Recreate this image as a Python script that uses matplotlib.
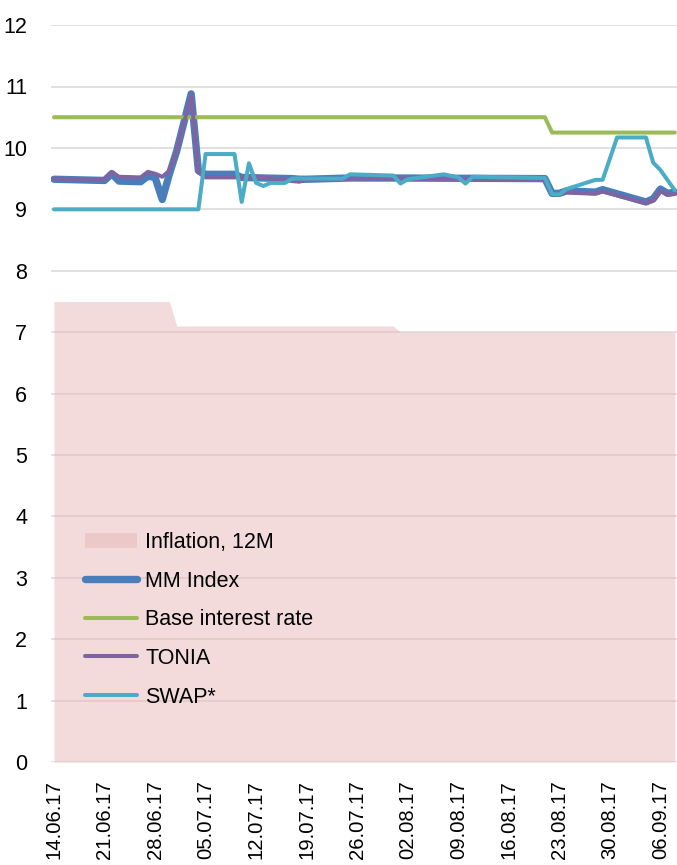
import pandas as pd
import matplotlib.pyplot as plt
import matplotlib.dates as mdates

plt.rcParams['font.family'] = ['Liberation Sans', 'DejaVu Sans']

# Inflation, 12M (monthly level, shown per day)
infl_dates = ['14.06.17', '30.06.17', '01.07.17', '31.07.17', '01.08.17', '08.09.17']
infl_vals = [7.5, 7.5, 7.1, 7.1, 7.0, 7.0]

# Base interest rate
base_dates = ['14.06.17', '21.08.17', '22.08.17', '08.09.17']
base_vals = [10.5, 10.5, 10.25, 10.25]

# MM Index and TONIA share the same observation dates
mm_dates = ['14.06.17', '21.06.17', '22.06.17', '23.06.17', '26.06.17', '27.06.17',
            '28.06.17', '29.06.17', '30.06.17', '01.07.17', '03.07.17', '04.07.17',
            '05.07.17', '09.07.17', '10.07.17', '13.07.17', '17.07.17', '18.07.17',
            '19.07.17', '25.07.17', '31.07.17', '21.08.17', '22.08.17', '23.08.17',
            '24.08.17', '28.08.17', '29.08.17', '04.09.17', '05.09.17', '06.09.17',
            '07.09.17', '08.09.17']
mm_vals = [9.49, 9.47, 9.58, 9.46, 9.45, 9.54,
           9.52, 9.16, 9.58, 9.95, 10.88, 9.63,
           9.57, 9.57, 9.52, 9.51, 9.50, 9.49,
           9.49, 9.51, 9.51, 9.50, 9.26, 9.26,
           9.30, 9.28, 9.32, 9.12, 9.17, 9.33,
           9.26, 9.28]
tonia_vals = [9.50, 9.48, 9.61, 9.53, 9.52, 9.61,
              9.58, 9.53, 9.63, 9.95, 10.86, 9.60,
              9.52, 9.52, 9.52, 9.52, 9.46, 9.45,
              9.48, 9.50, 9.50, 9.49, 9.25, 9.24,
              9.28, 9.26, 9.29, 9.10, 9.14, 9.30,
              9.24, 9.25]

# SWAP*
swap_dates = ['14.06.17', '04.07.17', '05.07.17', '09.07.17', '10.07.17', '11.07.17',
              '12.07.17', '13.07.17', '14.07.17', '16.07.17', '17.07.17', '24.07.17',
              '25.07.17', '31.07.17', '01.08.17', '02.08.17', '07.08.17', '09.08.17',
              '10.08.17', '11.08.17', '21.08.17', '22.08.17', '23.08.17', '24.08.17',
              '28.08.17', '29.08.17', '31.08.17', '04.09.17', '05.09.17', '06.09.17',
              '08.09.17']
swap_vals = [9.00, 9.00, 9.90, 9.90, 9.12, 9.75,
             9.43, 9.38, 9.43, 9.43, 9.50, 9.50,
             9.57, 9.55, 9.42, 9.49, 9.57, 9.52,
             9.42, 9.53, 9.51, 9.25, 9.24, 9.33,
             9.48, 9.48, 10.17, 10.17, 9.76, 9.64,
             9.31]

tick_dates = ['14.06.17', '21.06.17', '28.06.17', '05.07.17', '12.07.17', '19.07.17',
              '26.07.17', '02.08.17', '09.08.17', '16.08.17', '23.08.17', '30.08.17',
              '06.09.17']


def to_dt(lst):
    return pd.to_datetime(lst, format='%d.%m.%y')


fig = plt.figure(figsize=(6.77, 8.65), dpi=100)
ax = fig.add_axes([0.0753, 0.119, 0.9247, 0.852])

ax.fill_between(to_dt(infl_dates), infl_vals, 0, color='#e6b8b7', alpha=0.5,
                linewidth=0, label='Inflation, 12M', zorder=2)
ax.plot(to_dt(mm_dates), mm_vals, color='#4a7ebb', lw=5.3, label='MM Index',
        solid_capstyle='round', solid_joinstyle='round', zorder=3)
ax.plot(to_dt(base_dates), base_vals, color='#9bbb59', lw=2.9, label='Base interest rate',
        solid_capstyle='round', solid_joinstyle='round', zorder=4)
ax.plot(to_dt(mm_dates), tonia_vals, color='#8064a2', lw=2.9, label='TONIA',
        solid_capstyle='round', solid_joinstyle='round', zorder=5)
ax.plot(to_dt(swap_dates), swap_vals, color='#4bacc6', lw=2.9, label='SWAP*',
        solid_capstyle='round', solid_joinstyle='round', zorder=6)

start = to_dt(['14.06.17'])[0]
ax.set_xlim(start - pd.Timedelta(hours=10), start + pd.Timedelta(days=86.3))
ax.set_ylim(0, 12)
ax.set_yticks(range(0, 13))

ax.set_xticks(to_dt(tick_dates))
ax.xaxis.set_major_formatter(mdates.DateFormatter('%d.%m.%y'))
ax.tick_params(axis='x', labelrotation=90, length=0, pad=13, labelsize=14.6)
ax.tick_params(axis='y', length=0, pad=17, labelsize=15.5)

ax.grid(axis='y', color='#d9d9d9', lw=1.1, zorder=1)
ax.set_axisbelow(True)
for s in ax.spines.values():
    s.set_visible(False)

leg = ax.legend(loc='upper left', bbox_to_anchor=(0.1256, 0.385),
                bbox_transform=fig.transFigure, frameon=False, fontsize=15.5,
                borderpad=0, borderaxespad=0, handlelength=2.4, handletextpad=0.4,
                labelspacing=0.82)

fig.savefig('out.png', dpi=100)
